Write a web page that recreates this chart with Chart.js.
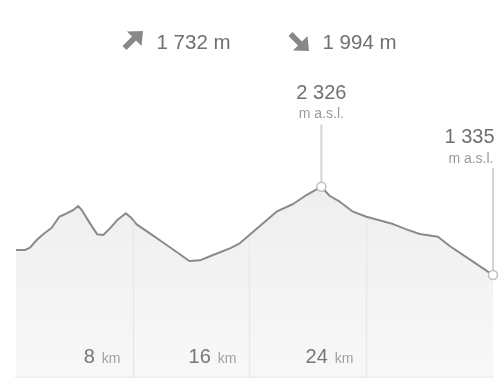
<!DOCTYPE html>
<html><head><meta charset="utf-8">
<script src="https://cdn.jsdelivr.net/npm/chart.js@4/dist/chart.umd.min.js"></script>
<style>html,body{margin:0;padding:0;background:#fff;}#wrap{width:502px;height:385px;position:relative;}</style>
</head><body><div id="wrap"><canvas id="c" width="502" height="385"></canvas></div>
<script>
// distance along route (km)
const KM = [0, 0.62, 0.96, 1.42, 1.87, 2.45, 2.97, 3.48, 3.93, 4.27, 4.51, 5.08, 5.58, 5.99, 6.45, 6.95, 7.54, 7.94, 8.28, 9.19, 10.34, 11.25, 11.89, 12.62, 13.53, 14.68, 15.36, 16.28, 17.08, 17.88, 19.02, 19.94, 20.96, 21.54, 22.22, 23.13, 24.05, 25.88, 26.80, 27.71, 28.96, 29.77, 31.14, 32.74];
// elevation (m a.s.l.)
const ELEV = [1616, 1616, 1642, 1728, 1792, 1866, 1989, 2028, 2065, 2109, 2065, 1915, 1792, 1784, 1859, 1952, 2028, 1971, 1904, 1803, 1672, 1568, 1492, 1500, 1560, 1635, 1691, 1821, 1933, 2046, 2132, 2233, 2326, 2222, 2158, 2046, 1989, 1907, 1848, 1795, 1765, 1661, 1511, 1335];
const TICK_KM = [8, 16, 24];
const ASCENT_M = 1732;
const DESCENT_M = 1994;
const UNIT_KM = 'km';
const UNIT_ASL = 'm a.s.l.';
const Y_MIN = 180, Y_MAX = 4421;

const fmt = v => String(v).replace(/\B(?=(\d{3})+(?!\d))/g, ' ');
const FONT = '"Liberation Sans", Arial, sans-serif';
const peakIdx = ELEV.indexOf(Math.max(...ELEV));
const lastIdx = ELEV.length - 1;

function curveY(chart, km) {
  const ys = chart.scales.y;
  for (let i = 1; i < KM.length; i++) {
    if (km <= KM[i]) {
      const t = (km - KM[i-1]) / (KM[i] - KM[i-1]);
      return ys.getPixelForValue(ELEV[i-1] + t * (ELEV[i] - ELEV[i-1]));
    }
  }
  return ys.getPixelForValue(ELEV[lastIdx]);
}

const deco = {
  id: 'deco',
  beforeDatasetsDraw(chart) {
    const ctx = chart.ctx, xs = chart.scales.x, ys = chart.scales.y;
    ctx.save();
    // header
    ctx.fillStyle = '#888';
    // up arrow
    ctx.beginPath();
    ctx.moveTo(143, 31); ctx.lineTo(127, 31.5); ctx.lineTo(132, 36.5); ctx.lineTo(122.5, 46);
    ctx.lineTo(126.5, 50); ctx.lineTo(136, 40.5); ctx.lineTo(141.5, 46); ctx.closePath(); ctx.fill();
    // down arrow
    ctx.beginPath();
    ctx.moveTo(309, 51); ctx.lineTo(293, 50.5); ctx.lineTo(298, 45.5); ctx.lineTo(288.5, 36);
    ctx.lineTo(292.5, 32); ctx.lineTo(302, 41.5); ctx.lineTo(307.5, 36); ctx.closePath(); ctx.fill();
    ctx.fillStyle = '#707070';
    ctx.font = '20.5px ' + FONT;
    ctx.textAlign = 'left'; ctx.textBaseline = 'alphabetic';
    ctx.fillText(fmt(ASCENT_M) + ' m', 156.5, 48.5);
    ctx.fillText(fmt(DESCENT_M) + ' m', 322.5, 48.5);

    // marker lines + labels
    const px = xs.getPixelForValue(KM[peakIdx]), py = ys.getPixelForValue(ELEV[peakIdx]);
    const ex = xs.getPixelForValue(KM[lastIdx]), ey = ys.getPixelForValue(ELEV[lastIdx]);
    ctx.strokeStyle = '#d4d4d4'; ctx.lineWidth = 2;
    ctx.beginPath(); ctx.moveTo(px, py - 62); ctx.lineTo(px, py); ctx.stroke();
    ctx.beginPath(); ctx.moveTo(ex, ey - 107); ctx.lineTo(ex, ey); ctx.stroke();

    ctx.textAlign = 'center';
    ctx.fillStyle = '#707070'; ctx.font = '20px ' + FONT;
    ctx.fillText(fmt(ELEV[peakIdx]), px, py + 12.3 - 100);
    ctx.fillStyle = '#9a9a9a'; ctx.font = '14px ' + FONT;
    ctx.fillText(UNIT_ASL, px, py - 68.5);

    ctx.textAlign = 'right';
    ctx.fillStyle = '#707070'; ctx.font = '20px ' + FONT;
    ctx.fillText(fmt(ELEV[lastIdx]), ex + 1.5, ey - 132);
    ctx.fillStyle = '#9a9a9a'; ctx.font = '14px ' + FONT;
    ctx.fillText(UNIT_ASL, ex + 0.5, ey - 112);
    ctx.restore();
  },
  afterDatasetsDraw(chart) {
    const ctx = chart.ctx, xs = chart.scales.x, area = chart.chartArea;
    ctx.save();
    // bottom band
    ctx.fillStyle = '#ececec';
    ctx.fillRect(area.left - 1, area.bottom - 1.5, area.right - area.left + 1, 1.5);
    ctx.strokeStyle = '#e8e8e8'; ctx.lineWidth = 1.5;
    TICK_KM.forEach(k => {
      const gx = Math.round(xs.getPixelForValue(k)) + 0.5;
      const cy = curveY(chart, k);
      ctx.beginPath(); ctx.moveTo(gx, cy + 2); ctx.lineTo(gx, area.bottom); ctx.stroke();
      ctx.textAlign = 'right'; ctx.textBaseline = 'alphabetic';
      ctx.font = '14px ' + FONT; ctx.fillStyle = '#a0a0a0';
      const kmRight = gx - 13;
      ctx.fillText(UNIT_KM, kmRight, 363);
      const kmW = ctx.measureText(UNIT_KM).width;
      ctx.font = '20px ' + FONT; ctx.fillStyle = '#777';
      ctx.fillText(String(k), kmRight - kmW - 7, 363);
    });
    ctx.restore();
  }
};

new Chart(document.getElementById('c'), {
  type: 'line',
  data: {
    datasets: [{
      data: KM.map((k, i) => ({x: k, y: ELEV[i]})),
      borderColor: '#8a8a8a',
      borderWidth: 2,
      borderJoinStyle: 'round',
      tension: 0,
      clip: false,
      fill: 'start',
      backgroundColor(ctx) {
        const a = ctx.chart.chartArea;
        if (!a) return '#f2f2f2';
        const g = ctx.chart.ctx.createLinearGradient(0, 180, 0, a.bottom);
        g.addColorStop(0, '#eeeeee');
        g.addColorStop(1, '#f8f8f8');
        return g;
      },
      pointRadius: c => (c.dataIndex === peakIdx || c.dataIndex === lastIdx) ? 4.5 : 0,
      pointBackgroundColor: '#fff',
      pointBorderColor: '#bdbdbd',
      pointBorderWidth: 1.5
    }]
  },
  options: {
    responsive: false,
    animation: false,
    devicePixelRatio: 1,
    layout: {autoPadding: false, padding: {left: 16, right: 9, top: 0, bottom: 7}},
    scales: {
      x: {type: 'linear', min: 0, max: KM[KM.length - 1], display: false},
      y: {min: Y_MIN, max: Y_MAX, display: false}
    },
    plugins: {legend: {display: false}, tooltip: {enabled: false}},
    events: []
  },
  plugins: [deco]
});
</script></body></html>
